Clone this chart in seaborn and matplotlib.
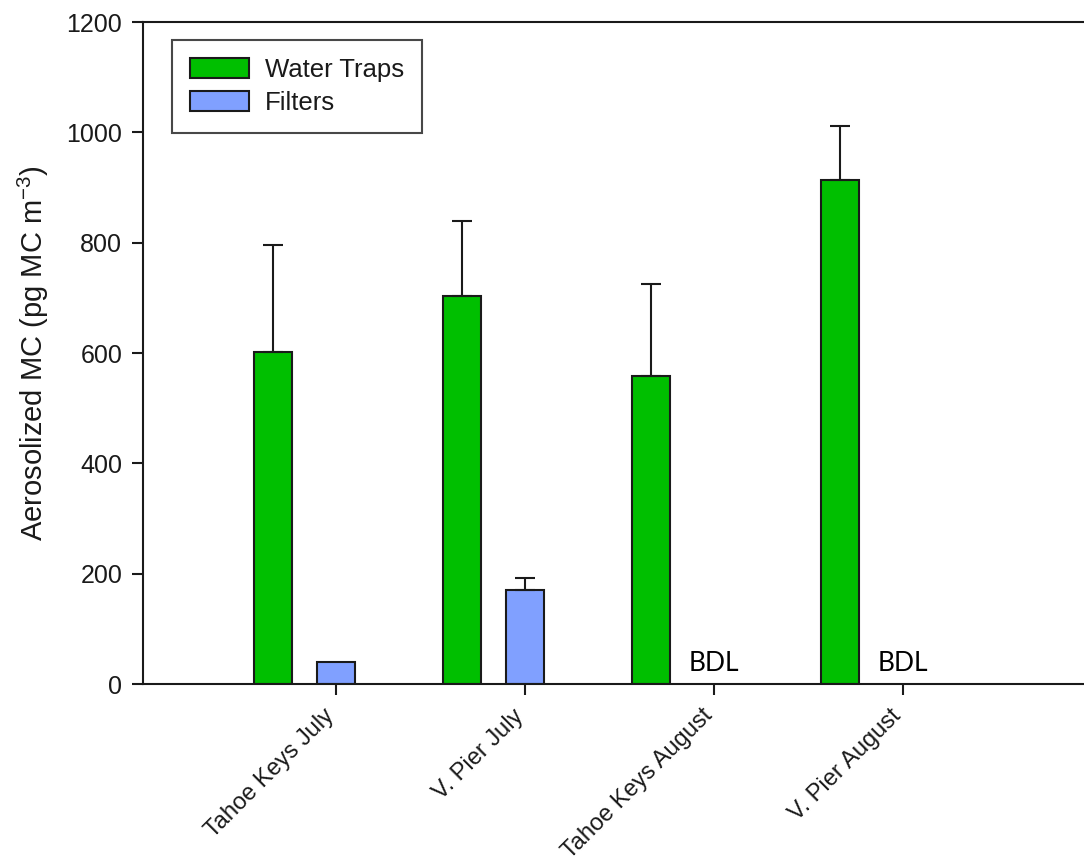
import numpy as np
import pandas as pd
import matplotlib
matplotlib.use("Agg")
import matplotlib.pyplot as plt
import matplotlib.transforms as mtransforms
import seaborn as sns

# Aerosolized microcystin by site / month
sites = ["Tahoe Keys July", "V. Pier July", "Tahoe Keys August", "V. Pier August"]
water_traps = [602, 703, 558, 913]
water_traps_err = [194, 136, 167, 98]
filters = [40, 171, None, None]          # None = below detection limit
filters_err = [0, 21, None, None]
methods = ["Water Traps", "Filters"]
bdl_label = "BDL"

sns.set_theme(style="white")
plt.rcParams["font.family"] = ["Liberation Sans", "DejaVu Sans"]
plt.rcParams["mathtext.default"] = "regular"

rows = []
for s, v, e in zip(sites, water_traps, water_traps_err):
    rows.append({"site": s, "method": methods[0], "value": v, "err": e})
for s, v, e in zip(sites, filters, filters_err):
    if v is not None:
        rows.append({"site": s, "method": methods[1], "value": v, "err": e})
df = pd.DataFrame(rows)

ink = "#1a1a1a"
palette = {"Water Traps": "#00BF00", "Filters": "#80A0FF"}

fig = plt.figure(figsize=(10.84, 8.67), dpi=100)
ax = fig.add_axes([0.132, 0.211, 0.868, 0.7635])

sns.barplot(data=df, x="site", y="value", hue="method", order=sites,
            hue_order=methods, palette=palette, width=0.667, gap=0.4,
            edgecolor=ink, linewidth=1.5, errorbar=None, saturation=1,
            ax=ax)

# one-sided (upper) error bars
err_lookup = {(r.site, r.method): r.err for r in df.itertuples()}
for container, method in zip(ax.containers, methods):
    for patch in container.patches:
        cx = patch.get_x() + patch.get_width() / 2
        h = patch.get_height()
        if np.isnan(h):
            continue
        idx = int(round(cx))
        e = err_lookup.get((sites[idx], method), 0)
        if e and e > 0:
            ax.errorbar(cx, h, yerr=[[0], [e]], fmt="none", ecolor=ink,
                        elinewidth=1.5, capsize=7, capthick=1.5, zorder=3)

# BDL annotations where filters had no detection
offset = 0.1667
for i, v in enumerate(filters):
    if v is None:
        ax.text(i + offset, 15, bdl_label, ha="center", va="bottom",
                fontsize=19, color="black", family=["Lato", "DejaVu Sans"])

ax.set_ylim(0, 1200)
ax.set_xlim(-0.854, 4.124)
ax.set_yticks(np.arange(0, 1201, 200))
ax.set_yticklabels([str(v) for v in range(0, 1201, 200)], fontsize=18, color=ink)
ax.set_xticks(np.arange(len(sites)) + offset)
ax.set_xticklabels(sites, rotation=45, ha="right", va="top",
                   rotation_mode="anchor", fontsize=17, color=ink)
ax.tick_params(axis="both", direction="out", length=8, width=1.5, color=ink,
               bottom=True, left=True)
ax.tick_params(axis="x", pad=7)
ax.tick_params(axis="y", pad=7)

# nudge the slanted category labels left of their ticks
shift = mtransforms.ScaledTranslation(-0.13, 0, fig.dpi_scale_trans)
for lbl in ax.get_xticklabels():
    lbl.set_transform(lbl.get_transform() + shift)

ax.set_xlabel("")
ax.set_ylabel("Aerosolized MC (pg MC m$^{-3}$)", fontsize=21, color=ink, labelpad=11)

for side in ["left", "top", "bottom"]:
    ax.spines[side].set_visible(True)
    ax.spines[side].set_color(ink)
    ax.spines[side].set_linewidth(1.5)
ax.spines["right"].set_visible(False)

leg = ax.legend(loc="upper left", bbox_to_anchor=(0.031, 0.973), fontsize=18.5,
                frameon=True, fancybox=False, handlelength=2.3,
                handleheight=0.8, borderpad=0.7, labelspacing=0.35,
                handletextpad=0.62, borderaxespad=0, title=None)
leg.get_frame().set_edgecolor(ink)
leg.get_frame().set_linewidth(1.5)
for t in leg.get_texts():
    t.set_color(ink)

fig.savefig("out.png", dpi=100)
